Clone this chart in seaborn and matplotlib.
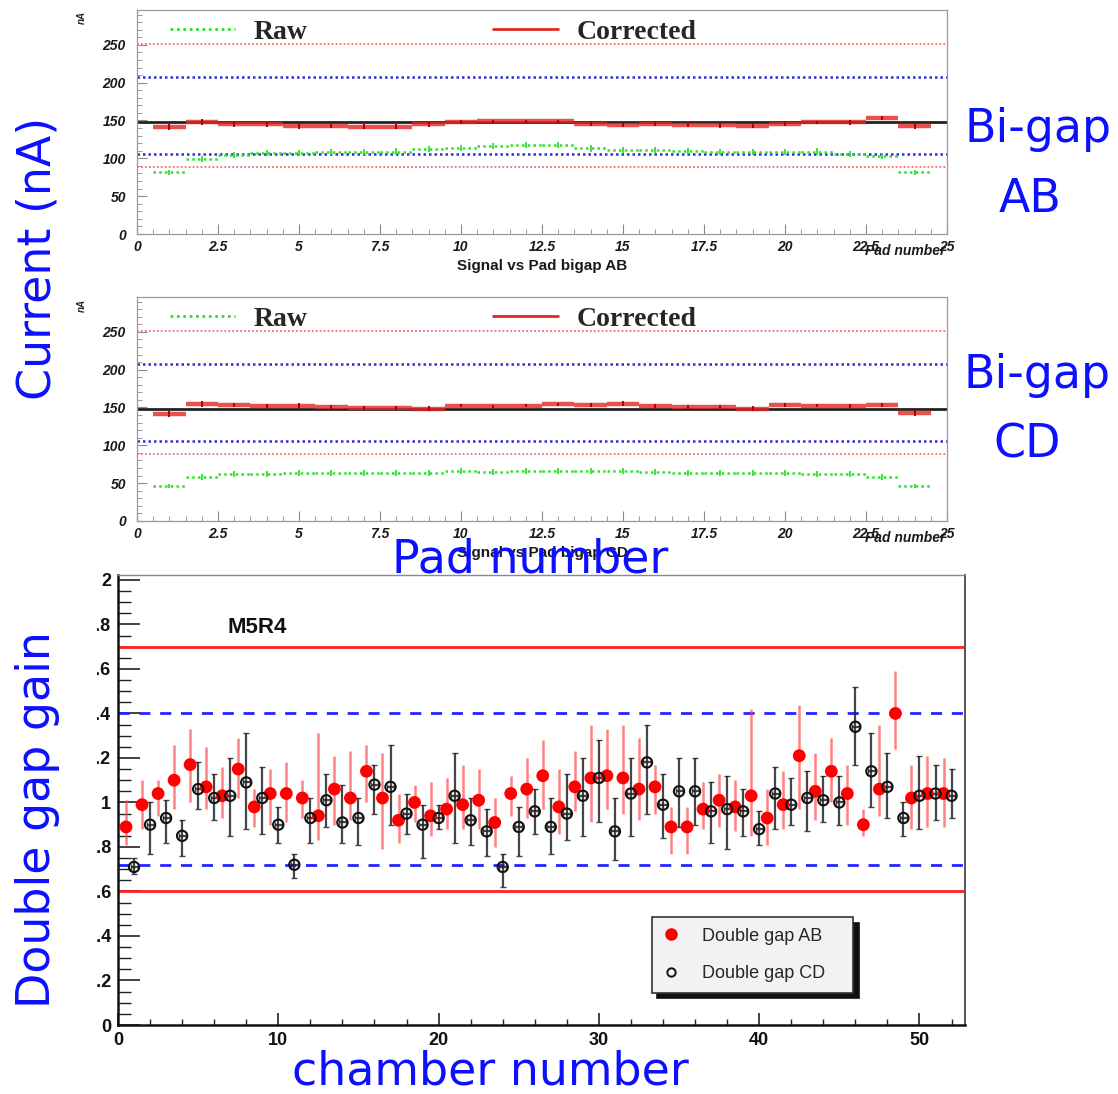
import numpy as np
import pandas as pd
import matplotlib
matplotlib.use("Agg")
import matplotlib.pyplot as plt
import seaborn as sns
from matplotlib.lines import Line2D
from matplotlib.patches import Rectangle

# ---------------- data ----------------
pads = list(range(1, 25))
ab_corrected = [142, 147.5, 145, 145, 143, 143, 142, 142, 145, 148, 149, 149,
                149, 146, 144, 146, 144.5, 143.5, 143, 146, 147.5, 147.5, 153, 143]
ab_raw = [81.5, 99, 105, 107, 107, 108, 108, 109, 112, 114, 116, 117,
          117, 113, 111, 111.5, 110, 108.5, 108, 108, 109, 106, 103.5, 81.5]
cd_corrected = [142, 155, 153, 151.5, 152.5, 150.5, 149.5, 149.5, 148.5, 152.5, 151.5, 152.5,
                154, 153, 155, 151.5, 150.5, 150, 148.5, 153, 152, 152, 153, 142.5]
cd_raw = [46, 58.5, 61.5, 62.5, 63.5, 63.5, 63.5, 64, 63.5, 65.5, 65, 65.5,
          66.5, 66, 66.5, 64.5, 64, 63.5, 63.5, 64, 62.5, 61.5, 58.5, 46]
corr_err = [4, 4, 3, 3, 4, 3, 3, 3, 3, 2, 2, 2, 2, 3, 3, 3, 3, 3, 3, 3, 2, 3, 3, 4]
raw_err = [3, 4, 4, 4, 4, 4, 4, 4, 4, 4, 4, 4, 4, 4, 4, 4, 4, 4, 4, 4, 4, 4, 4, 3]
current_levels = [251, 207, 148, 106, 88]

chambers = list(range(1, 53))
ab_gain = [0.89, 0.99, 1.04, 1.10, 1.17, 1.07, 1.03, 1.15, 0.98, 1.04, 1.04, 1.02, 0.94,
           1.06, 1.02, 1.14, 1.02, 0.92, 1.00, 0.94, 0.97, 0.99, 1.01, 0.91, 1.04, 1.06,
           1.12, 0.98, 1.07, 1.11, 1.12, 1.11, 1.06, 1.07, 0.89, 0.89, 0.97, 1.01, 0.98,
           1.03, 0.93, 0.99, 1.21, 1.05, 1.14, 1.04, 0.90, 1.06, 1.40, 1.02, 1.04, 1.04]
ab_err_up = [0.12, 0.11, 0.06, 0.16, 0.16, 0.18, 0.13, 0.14, 0.08, 0.11, 0.14, 0.08, 0.37,
             0.15, 0.21, 0.12, 0.20, 0.12, 0.08, 0.15, 0.14, 0.18, 0.14, 0.11, 0.08, 0.14,
             0.16, 0.17, 0.16, 0.24, 0.21, 0.24, 0.23, 0.10, 0.09, 0.09, 0.12, 0.12, 0.12,
             0.39, 0.13, 0.15, 0.23, 0.17, 0.15, 0.13, 0.07, 0.29, 0.19, 0.15, 0.17, 0.16]
ab_err_down = [0.08, 0.11, 0.10, 0.13, 0.17, 0.10, 0.10, 0.13, 0.09, 0.14, 0.13, 0.09, 0.11,
               0.16, 0.10, 0.14, 0.23, 0.10, 0.09, 0.09, 0.09, 0.11, 0.13, 0.11, 0.10, 0.13,
               0.15, 0.12, 0.11, 0.20, 0.15, 0.16, 0.14, 0.12, 0.12, 0.12, 0.09, 0.12, 0.11,
               0.18, 0.12, 0.11, 0.24, 0.13, 0.14, 0.14, 0.05, 0.12, 0.16, 0.14, 0.15, 0.15]
cd_gain = [0.71, 0.90, 0.93, 0.85, 1.06, 1.02, 1.03, 1.09, 1.02, 0.90, 0.72, 0.93, 1.01,
           0.91, 0.93, 1.08, 1.07, 0.95, 0.90, 0.93, 1.03, 0.92, 0.87, 0.71, 0.89, 0.96,
           0.89, 0.95, 1.03, 1.11, 0.87, 1.04, 1.18, 0.99, 1.05, 1.05, 0.96, 0.97, 0.96,
           0.88, 1.04, 0.99, 1.02, 1.01, 1.00, 1.34, 1.14, 1.07, 0.93, 1.03, 1.04, 1.03]
cd_err_up = [0.04, 0.10, 0.08, 0.07, 0.12, 0.11, 0.17, 0.22, 0.14, 0.08, 0.05, 0.09, 0.12,
             0.17, 0.09, 0.09, 0.19, 0.09, 0.09, 0.06, 0.19, 0.10, 0.10, 0.06, 0.09, 0.10,
             0.13, 0.18, 0.17, 0.17, 0.15, 0.16, 0.17, 0.14, 0.15, 0.15, 0.13, 0.15, 0.10,
             0.08, 0.12, 0.12, 0.12, 0.11, 0.12, 0.18, 0.17, 0.15, 0.07, 0.18, 0.13, 0.12]
cd_err_down = [0.03, 0.13, 0.11, 0.09, 0.09, 0.10, 0.18, 0.21, 0.16, 0.08, 0.06, 0.11, 0.12,
               0.09, 0.12, 0.13, 0.17, 0.09, 0.15, 0.05, 0.21, 0.11, 0.11, 0.09, 0.13, 0.10,
               0.12, 0.12, 0.18, 0.20, 0.13, 0.19, 0.23, 0.15, 0.16, 0.15, 0.14, 0.18, 0.11,
               0.07, 0.16, 0.09, 0.15, 0.10, 0.10, 0.17, 0.16, 0.14, 0.08, 0.15, 0.12, 0.10]
gain_levels = [1.7, 1.4, 0.72, 0.6]

pad_ticks = [0, 2.5, 5, 7.5, 10, 12.5, 15, 17.5, 20, 22.5, 25]
pad_tick_labels = ["0", "2.5", "5", "7.5", "10", "12.5", "15", "17.5", "20", "22.5", "25"]
current_ticks = [0, 50, 100, 150, 200, 250]

# ---------------- style ----------------
sns.set_theme(style="white")
plt.rcParams["font.family"] = ["Liberation Sans", "DejaVu Sans"]

W, H = 1118, 1094
fig = plt.figure(figsize=(W / 100, H / 100), dpi=100)
fig.patch.set_facecolor("white")


def fx(p):
    return p / W


def fy(p):
    return 1 - p / H


GREEN = "#2fe02f"
RED = "#e42626"
BLUE_TXT = "#0c10ff"


def pad_panel(ax, corrected, raw, title):
    level_styles = [("#ff6a6a", (0, (1, 1.2)), 1.3),
                    ("#2f2fd8", (0, (1, 1.2)), 1.8),
                    ("#222222", "-", 2.0),
                    ("#2f2fd8", (0, (1, 1.2)), 1.8),
                    ("#ff6a6a", (0, (1, 1.2)), 1.3)]
    for lvl, (col, ls, lw) in zip(current_levels, level_styles):
        ax.axhline(lvl, color=col, ls=ls, lw=lw, zorder=2)

    # raw signal: dotted bin-wide segments with small error ticks
    c = ax.errorbar(pads, raw, xerr=0.5, fmt="none", ecolor=GREEN, elinewidth=1.8, zorder=3)
    c.lines[2][0].set_linestyle((0, (1, 1.3)))
    ax.errorbar(pads, raw, yerr=raw_err, fmt="none", ecolor=GREEN, elinewidth=1.3, zorder=3)

    # corrected signal: solid bin-wide bars with error ticks
    ax.errorbar(pads, corrected, xerr=0.5, fmt="none", ecolor=RED, elinewidth=3.2,
                alpha=0.8, zorder=4)
    ax.errorbar(pads, corrected, yerr=corr_err, fmt="none", ecolor="#b00000",
                elinewidth=1.4, zorder=5)

    ax.set_xlim(0, 25)
    ax.set_ylim(0, 296)
    ax.set_xticks(pad_ticks)
    ax.set_xticklabels(pad_tick_labels, fontsize=10, fontstyle="italic", fontweight="bold")
    ax.set_xticks(np.arange(0, 25.01, 0.5), minor=True)
    ax.set_yticks(current_ticks)
    ax.set_yticklabels([str(t) for t in current_ticks], fontsize=10,
                       fontstyle="italic", fontweight="bold")
    ax.set_yticks(np.arange(0, 296, 10), minor=True)
    ax.tick_params(axis="both", which="both", direction="in", color="#8a8a8a",
                   bottom=True, left=True, labelcolor="#1a1a1a")
    ax.tick_params(axis="both", which="major", length=7, width=0.8)
    ax.tick_params(axis="both", which="minor", length=3.5, width=0.6)
    ax.tick_params(axis="x", pad=4)
    ax.tick_params(axis="y", pad=8)
    for s in ax.spines.values():
        s.set_color("#9a9a9a")
        s.set_linewidth(0.9)

    raw_h = Line2D([], [], color=GREEN, ls=(0, (1, 1.3)), lw=2.0)
    corr_h = Line2D([], [], color=RED, lw=2.0)
    ax.legend([raw_h, corr_h], ["Raw", "Corrected"], loc="upper left",
              bbox_to_anchor=(0.041, 0.958), ncol=2, frameon=False, borderpad=0,
              borderaxespad=0, handlelength=2.34, handletextpad=0.65, columnspacing=6.7,
              prop=dict(family="Liberation Serif", weight="bold", size=20))

    ax.text(0.5, -0.143, title, transform=ax.transAxes, ha="center", va="center",
            fontsize=11, fontweight="bold", color="#1a1a1a")
    ax.text(0.998, -0.076, "Pad number", transform=ax.transAxes, ha="right", va="center",
            fontsize=10, fontweight="bold", fontstyle="italic", color="#1a1a1a")


ax1 = fig.add_axes([fx(137), fy(234), 810 / W, 224 / H])
pad_panel(ax1, ab_corrected, ab_raw, "Signal vs Pad bigap AB")
fig.text(fx(82), fy(18), "nA", rotation=90, fontsize=7, fontstyle="italic",
         fontweight="bold", ha="center", va="center")

ax2 = fig.add_axes([fx(137), fy(521), 810 / W, 224 / H])
pad_panel(ax2, cd_corrected, cd_raw, "Signal vs Pad bigap CD")
fig.text(fx(82), fy(305), "nA", rotation=90, fontsize=7, fontstyle="italic",
         fontweight="bold", ha="center", va="center")

# ---------------- gain per chamber ----------------
ax3 = fig.add_axes([fx(118), fy(1025), 847 / W, 450 / H])
ab_x = [c - 0.5 for c in chambers]
cd_x = list(chambers)

for lvl, col, ls in zip(gain_levels, ["#ff2020", "#2424ff", "#2424ff", "#ff2020"],
                        ["-", (0, (4, 3.5)), (0, (4, 3.5)), "-"]):
    ax3.axhline(lvl, color=col, ls=ls, lw=2.0, zorder=2)

ax3.errorbar(ab_x, ab_gain, yerr=[ab_err_down, ab_err_up], fmt="none",
             ecolor="#ff4040", elinewidth=1.8, alpha=0.65, zorder=3)
ax3.errorbar(cd_x, cd_gain, yerr=[cd_err_down, cd_err_up], xerr=0.22, fmt="none",
             ecolor="#262626", elinewidth=1.6, capsize=2, alpha=0.85, zorder=3)

gain_df = pd.DataFrame({"x": ab_x + cd_x, "gain": ab_gain + cd_gain,
                        "gap": ["Double gap AB"] * len(ab_x) + ["Double gap CD"] * len(cd_x)})
ab_df = gain_df[gain_df["gap"] == "Double gap AB"]
cd_df = gain_df[gain_df["gap"] == "Double gap CD"]
sns.scatterplot(data=ab_df, x="x", y="gain", ax=ax3, color="#ff0000", s=85,
                edgecolor="none", marker="o", label="Double gap AB", zorder=5, legend=False)
sns.scatterplot(data=cd_df, x="x", y="gain", ax=ax3, marker="o", s=55,
                facecolor="none", edgecolor="#111111", linewidth=1.5,
                label="Double gap CD", zorder=5, legend=False)

ax3.set_xlim(0, 52.84)
ax3.set_ylim(0, 2.022)
ax3.set_xlabel("")
ax3.set_ylabel("")
ax3.set_xticks([0, 10, 20, 30, 40, 50])
ax3.set_xticklabels(["0", "10", "20", "30", "40", "50"], fontsize=13, fontweight="bold")
ax3.set_xticks(np.arange(0, 52.84, 2), minor=True)
yt = [0, 0.2, 0.4, 0.6, 0.8, 1.0, 1.2, 1.4, 1.6, 1.8, 2.0]
ax3.set_yticks(yt)
ax3.set_yticklabels(["0", "0.2", "0.4", "0.6", "0.8", "1", "1.2", "1.4", "1.6", "1.8", "2"],
                    fontsize=13, fontweight="bold")
ax3.set_yticks(np.arange(0, 2.0001, 0.05), minor=True)
ax3.tick_params(axis="both", which="both", direction="in", color="#222222",
                bottom=True, left=True, labelcolor="#111111")
ax3.tick_params(axis="y", which="major", length=16, width=1.2, pad=5)
ax3.tick_params(axis="y", which="minor", length=9, width=1.0)
ax3.tick_params(axis="x", which="major", length=9, width=1.2, pad=5)
ax3.tick_params(axis="x", which="minor", length=4, width=1.0)
ax3.spines["left"].set_color("#111111")
ax3.spines["left"].set_linewidth(1.8)
ax3.spines["bottom"].set_color("#111111")
ax3.spines["bottom"].set_linewidth(1.8)
ax3.spines["top"].set_color("#8a8a8a")
ax3.spines["top"].set_linewidth(1.0)
ax3.spines["right"].set_color("#555555")
ax3.spines["right"].set_linewidth(1.4)

ax3.text(0.129, 0.884, "M5R4", transform=ax3.transAxes, ha="left", va="center",
         fontsize=16, fontweight="bold", color="#111111")

handles = [Line2D([], [], ls="none", marker="o", markersize=8, color="#ff0000"),
           Line2D([], [], ls="none", marker="o", markersize=6, markerfacecolor="none",
                  markeredgecolor="#111111", markeredgewidth=1.4)]
leg = ax3.legend(handles, ["Double gap AB", "Double gap CD"], loc="center",
                 bbox_to_anchor=(0.630, 0.062, 0.238, 0.187), mode="expand",
                 borderaxespad=0, fontsize=13, labelspacing=1.15, borderpad=0.58,
                 handlelength=1.0, handletextpad=1.2, fancybox=False, framealpha=1,
                 shadow={"color": "#111111", "alpha": 1.0, "ox": 4, "oy": -4})
leg.get_frame().set_facecolor("#f2f2f2")
leg.get_frame().set_edgecolor("#333333")
leg.get_frame().set_linewidth(1.2)

# left strip trimming the gain tick labels
fig.add_artist(Rectangle((0, fy(1050)), fx(97), (1050 - 565) / H, transform=fig.transFigure,
                         facecolor="white", edgecolor="none", zorder=4))

# ---------------- large annotations ----------------
big = dict(color=BLUE_TXT, fontsize=33, family="DejaVu Sans", ha="center", va="center",
           zorder=6)
fig.text(fx(38), fy(258), "Current (nA)", rotation=90, **big)
fig.text(fx(1038), fy(130), "Bi-gap", **big)
fig.text(fx(1030), fy(200), "AB", **big)
fig.text(fx(1037), fy(375), "Bi-gap", **big)
fig.text(fx(1027), fy(445), "CD", **big)
fig.text(fx(530), fy(560), "Pad number", **big)
fig.text(fx(38), fy(820), "Double gap gain", rotation=90, **big)
fig.text(fx(490), fy(1072), "chamber number", **big)

fig.savefig("out.png", dpi=100)
